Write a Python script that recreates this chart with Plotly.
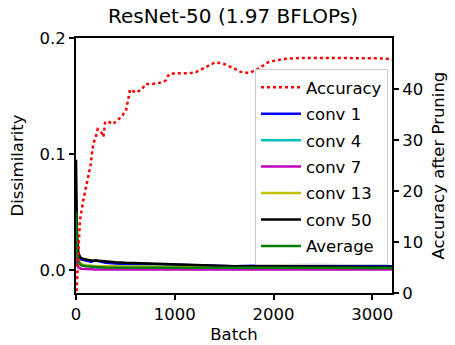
import plotly.graph_objects as go
from plotly.subplots import make_subplots

# Accuracy after pruning (right axis)
acc_batch = [0, 7, 20, 40, 74, 108, 125, 149, 166, 176, 199, 219, 260, 277, 287, 294, 321, 372, 422,
             469, 507, 523, 534, 547, 608, 665, 706, 777, 844, 905, 942, 1003, 1077, 1148, 1216, 1280,
             1341, 1405, 1476, 1543, 1604, 1662, 1750, 1850, 1950, 2100, 2300, 2500, 2700, 2900, 3100, 3200]
acc_vals = [-2, 0.6, 8, 14.3, 18.2, 21.5, 22.6, 25.2, 28.0, 29.3, 30.6, 32.1, 31.4, 30.6, 32.1, 33.4,
            33.7, 33.1, 33.9, 34.8, 35.9, 37.2, 38.5, 39.9, 39.3, 39.9, 41.0, 41.0, 41.2, 41.6, 42.9,
            43.1, 43.1, 43.1, 43.3, 43.9, 44.6, 45.2, 45.1, 44.6, 44.0, 43.4, 43.1, 44.0, 45.3, 45.9,
            46.1, 46.1, 46.1, 46.1, 46.0, 45.8]

# Dissimilarity per layer (left axis)
batch = [0, 10, 25, 50, 100, 150, 200, 300, 400, 500, 700, 1000, 1300, 1600, 2000, 2400, 2800, 3200]
conv1 = [0.06, 0.02, 0.012, 0.009, 0.008, 0.007, 0.008, 0.006, 0.0055, 0.005, 0.005, 0.0045, 0.0035,
         0.003, 0.004, 0.0045, 0.004, 0.003]
conv4 = [0.04, 0.012, 0.006, 0.004, 0.0035, 0.003, 0.003, 0.003, 0.003, 0.003, 0.0025, 0.0025, 0.002,
         0.002, 0.002, 0.002, 0.002, 0.002]
conv7 = [0.02, 0.005, 0.002, 0.001, 0.0008, 0.0005, 0.0003, 0.0003, 0.0002, 0.0002, 0.0002, 0.0002,
         0.0002, 0.0002, 0.0002, 0.0002, 0.0002, 0.0002]
conv13 = [0.05, 0.015, 0.008, 0.005, 0.004, 0.0035, 0.003, 0.003, 0.003, 0.0028, 0.0025, 0.0025, 0.002,
          0.002, 0.002, 0.002, 0.002, 0.002]
conv50 = [0.095, 0.03, 0.014, 0.010, 0.009, 0.008, 0.008, 0.007, 0.0065, 0.006, 0.0055, 0.005, 0.004,
          0.003, 0.003, 0.003, 0.003, 0.0025]
average = [0.05, 0.015, 0.007, 0.004, 0.003, 0.0025, 0.0025, 0.002, 0.002, 0.002, 0.002, 0.0018, 0.0015,
           0.0015, 0.0015, 0.0015, 0.0015, 0.0015]

series = [("conv 1", conv1, "#0000ff"), ("conv 4", conv4, "#00bfbf"), ("conv 7", conv7, "#bf00bf"),
          ("conv 13", conv13, "#bfbf00"), ("conv 50", conv50, "#000000"), ("Average", average, "#008000")]

FONT = "DejaVu Sans"
FS = 16.5
fig = make_subplots(specs=[[{"secondary_y": True}]])

fig.add_trace(go.Scatter(x=acc_batch, y=acc_vals, name="Accuracy", mode="lines", legendgroup="acc",
                         line=dict(color="#ff0000", width=2.5, dash="dot")), secondary_y=True)
for name, vals, col in series:
    fig.add_trace(go.Scatter(x=batch, y=vals, name=name, mode="lines", legendgroup=name,
                             line=dict(color=col, width=2.5)), secondary_y=False)

axis_common = dict(showline=True, linecolor="black", linewidth=2, ticks="outside", ticklen=5,
                   tickwidth=1.5, tickcolor="black", showgrid=False, zeroline=False, automargin=False,
                   tickfont=dict(family=FONT, size=FS, color="black"))

fig.update_xaxes(range=[0, 3200], tickvals=[0, 1000, 2000, 3000], mirror=True, domain=[0, 1],
                 title=dict(text="Batch", font=dict(family=FONT, size=FS, color="black"), standoff=6),
                 **axis_common)
fig.update_yaxes(range=[-0.02, 0.2], tickvals=[0.0, 0.1, 0.2], ticktext=["0.0", "0.1", "0.2"],
                 title=dict(text="Dissimilarity", font=dict(family=FONT, size=FS, color="black"), standoff=12),
                 secondary_y=False, **axis_common)
fig.update_yaxes(range=[0, 50], tickvals=[0, 10, 20, 30, 40],
                 title=dict(text="Accuracy after Pruning", font=dict(family=FONT, size=FS, color="black"), standoff=10),
                 secondary_y=True, **axis_common)

W, H = 455, 345
fig.update_layout(
    width=W, height=H,
    margin=dict(l=76, r=63, t=38, b=52),
    paper_bgcolor="white", plot_bgcolor="white",
    title=dict(text="ResNet-50 (1.97 BFLOPs)", x=233 / W, xanchor="center", y=1 - 9 / H,
               yanchor="top", font=dict(family=FONT, size=20, color="black")),
    font=dict(family=FONT, size=FS, color="black"),
    showlegend=True,
    legend=dict(x=(388 - 76) / 316, xanchor="right", y=(293 - 69) / 255, yanchor="top",
                bgcolor="rgba(255,255,255,0.85)", bordercolor="#cccccc", borderwidth=1,
                font=dict(family=FONT, size=FS, color="black"), tracegroupgap=2,
                itemwidth=40),
)

fig.write_html("out.html", config={"displayModeBar": False},
               post_script="document.body.style.margin='0px';")
